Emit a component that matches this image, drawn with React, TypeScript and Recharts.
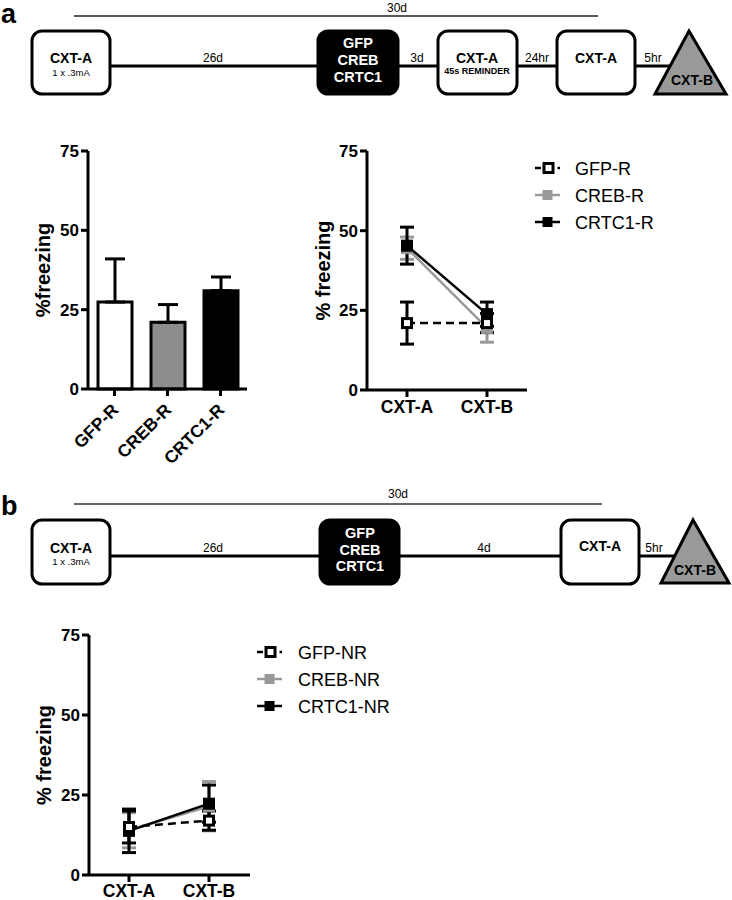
import React from 'react';
import { BarChart, Bar, LineChart, Line, XAxis, YAxis, ErrorBar, Cell, Legend } from 'recharts';

const FONT = '"Liberation Sans", Arial, Helvetica, sans-serif';

// ---- Panel a, bar chart ----
const barGroups = ['GFP-R', 'CREB-R', 'CRTC1-R'];
const barMeans = [27.4, 21.0, 31.0];
const barSem = [13.6, 5.6, 4.3];
const barFills = ['#ffffff', '#8c8c8c', '#000000'];

// ---- shared axes ----
const yTicks = [0, 25, 50, 75];
const contexts = ['CXT-A', 'CXT-B'];

// ---- Panel a, line chart (reminder groups) ----
const gfpR = [21.0, 21.0];
const gfpRErr = [6.6, 3.0];
const crebR = [44.5, 19.5];
const crebRErr = [3.5, 4.5];
const crtcR = [45.3, 23.8];
const crtcRErr = [5.8, 3.8];
const legendA = ['GFP-R', 'CREB-R', 'CRTC1-R'];

// ---- Panel b, line chart (no reminder groups) ----
const gfpNR = [15.0, 17.0];
const gfpNRErr = [5.0, 3.0];
const crebNR = [14.0, 21.5];
const crebNRErr = [5.5, 7.7];
const crtcNR = [13.8, 22.3];
const crtcNRErr = [6.8, 5.8];
const legendB = ['GFP-NR', 'CREB-NR', 'CRTC1-NR'];

const barData = barGroups.map((name, i) => ({ name, value: barMeans[i], err: [0, barSem[i]] }));
const lineDataA = contexts.map((name, i) => ({
  name,
  gfp: gfpR[i], gfpErr: gfpRErr[i],
  creb: crebR[i], crebErr: crebRErr[i],
  crtc: crtcR[i], crtcErr: crtcRErr[i],
}));
const lineDataB = contexts.map((name, i) => ({
  name,
  gfp: gfpNR[i], gfpErr: gfpNRErr[i],
  creb: crebNR[i], crebErr: crebNRErr[i],
  crtc: crtcNR[i], crtcErr: crtcNRErr[i],
}));

const GRAY = '#999999';

const squareDot = (fill: string, stroke: string, size: number, sw: number) => (props: any) => {
  const { cx, cy, index } = props;
  if (cx == null || cy == null) return <g key={`n-${index}`} />;
  return (
    <rect key={`d-${index}`} x={cx - size / 2} y={cy - size / 2} width={size} height={size}
      fill={fill} stroke={stroke} strokeWidth={sw} />
  );
};

const axisLine = { stroke: '#000', strokeWidth: 3 };
const tickStyle = { fill: '#000', fontSize: 17, fontWeight: 'bold' as const, fontFamily: FONT };

const RotTick = (props: any) => {
  const { x, y, payload } = props;
  return (
    <g transform={`translate(${x + 5},${y + 13}) rotate(-45)`}>
      <text x={0} y={0} textAnchor="end" fill="#000" fontSize={17.5} fontWeight="bold" fontFamily={FONT}>
        {payload.value}
      </text>
    </g>
  );
};

const LegendSymbols = ({ names, textX }: { names: string[]; textX: number }) => (
  <svg width={200} height={90} style={{ display: 'block', overflow: 'visible' }}>
    {names.map((n, i) => {
      const y = 18 + i * 27;
      let sym;
      if (i === 0) {
        sym = (
          <g>
            <line x1={0} y1={y} x2={6} y2={y} stroke="#000" strokeWidth={2.5} />
            <rect x={9} y={y - 4.5} width={9} height={9} fill="#fff" stroke="#000" strokeWidth={3} />
            <line x1={22.5} y1={y} x2={25} y2={y} stroke="#000" strokeWidth={2.5} />
          </g>
        );
      } else {
        const c = i === 1 ? GRAY : '#000';
        sym = (
          <g>
            <line x1={0} y1={y} x2={25} y2={y} stroke={c} strokeWidth={2.5} />
            <rect x={7.5} y={y - 5} width={10} height={10} fill={c} />
          </g>
        );
      }
      return (
        <g key={n}>
          {sym}
          <text x={textX} y={y + 6.5} fontSize={18} fill="#000" fontFamily={FONT}>{n}</text>
        </g>
      );
    })}
  </svg>
);

const TimelineA = () => (
  <svg width={732} height={110} style={{ position: 'absolute', left: 0, top: 0 }} fontFamily={FONT}>
    <text x={1} y={23} fontSize={27} fontWeight="bold" fill="#000">a</text>
    <line x1={74} y1={16} x2={598} y2={16} stroke="#222" strokeWidth={1.4} />
    <text x={397} y={12} fontSize={12} textAnchor="middle" fill="#000">30d</text>
    <line x1={110} y1={66} x2={672} y2={66} stroke="#000" strokeWidth={3} />
    <rect x={32} y={31} width={78} height={63} rx={10} fill="#fff" stroke="#000" strokeWidth={3} />
    <text x={71} y={63} fontSize={14} fontWeight="bold" textAnchor="middle">CXT-A</text>
    <text x={71} y={76} fontSize={9.5} textAnchor="middle">1 x .3mA</text>
    <text x={213} y={62} fontSize={12} textAnchor="middle">26d</text>
    <rect x={318} y={31} width={80} height={63} rx={10} fill="#000" stroke="#000" strokeWidth={3} />
    <text x={358} y={48} fontSize={14.5} fontWeight="bold" textAnchor="middle" fill="#fff">GFP</text>
    <text x={358} y={65} fontSize={14.5} fontWeight="bold" textAnchor="middle" fill="#fff">CREB</text>
    <text x={358} y={82} fontSize={14.5} fontWeight="bold" textAnchor="middle" fill="#fff">CRTC1</text>
    <text x={417} y={62} fontSize={12} textAnchor="middle">3d</text>
    <rect x={438} y={31} width={79} height={63} rx={10} fill="#fff" stroke="#000" strokeWidth={3} />
    <text x={477} y={63} fontSize={14} fontWeight="bold" textAnchor="middle">CXT-A</text>
    <text x={477} y={74} fontSize={9} fontWeight="bold" textAnchor="middle">45s REMINDER</text>
    <text x={537} y={62} fontSize={12} textAnchor="middle">24hr</text>
    <rect x={557} y={31} width={78} height={63} rx={10} fill="#fff" stroke="#000" strokeWidth={3} />
    <text x={596} y={63} fontSize={14} fontWeight="bold" textAnchor="middle">CXT-A</text>
    <text x={653} y={62} fontSize={12} textAnchor="middle">5hr</text>
    <polygon points="689,31 655,94 726,94" fill="#999" stroke="#000" strokeWidth={3} strokeLinejoin="miter" />
    <text x={692} y={85} fontSize={14} fontWeight="bold" textAnchor="middle">CXT-B</text>
  </svg>
);

const TimelineB = () => (
  <svg width={732} height={115} style={{ position: 'absolute', left: 0, top: 480 }} fontFamily={FONT}>
    <text x={1} y={35} fontSize={27} fontWeight="bold" fill="#000">b</text>
    <line x1={74} y1={24} x2={602} y2={24} stroke="#666" strokeWidth={2} />
    <text x={398} y={18} fontSize={12} textAnchor="middle" fill="#000">30d</text>
    <line x1={110} y1={76} x2={677} y2={76} stroke="#000" strokeWidth={3} />
    <rect x={32} y={40} width={78} height={64} rx={10} fill="#fff" stroke="#000" strokeWidth={3} />
    <text x={71} y={73} fontSize={14} fontWeight="bold" textAnchor="middle">CXT-A</text>
    <text x={71} y={85} fontSize={9.5} textAnchor="middle">1 x .3mA</text>
    <text x={213} y={72} fontSize={12} textAnchor="middle">26d</text>
    <rect x={320} y={40} width={79} height={64} rx={10} fill="#000" stroke="#000" strokeWidth={3} />
    <text x={360} y={58} fontSize={14.5} fontWeight="bold" textAnchor="middle" fill="#fff">GFP</text>
    <text x={360} y={75} fontSize={14.5} fontWeight="bold" textAnchor="middle" fill="#fff">CREB</text>
    <text x={360} y={91} fontSize={14.5} fontWeight="bold" textAnchor="middle" fill="#fff">CRTC1</text>
    <text x={484} y={72} fontSize={12} textAnchor="middle">4d</text>
    <rect x={561} y={40} width={78} height={64} rx={10} fill="#fff" stroke="#000" strokeWidth={3} />
    <text x={600} y={71} fontSize={14} fontWeight="bold" textAnchor="middle">CXT-A</text>
    <text x={654} y={72} fontSize={12} textAnchor="middle">5hr</text>
    <polygon points="693,40 661,103 729,103" fill="#999" stroke="#000" strokeWidth={3} strokeLinejoin="miter" />
    <text x={695} y={95} fontSize={14} fontWeight="bold" textAnchor="middle">CXT-B</text>
  </svg>
);

const yLabel = (text: string, dx: number) => ({
  value: text,
  angle: -90,
  position: 'center' as const,
  dx,
  style: { fontSize: 20, fontWeight: 'bold', fill: '#000', fontFamily: FONT, textAnchor: 'middle' },
});

const renderLines = () => [
  <Line key="creb" dataKey="creb" stroke={GRAY} strokeWidth={2.5} isAnimationActive={false}
    dot={squareDot(GRAY, GRAY, 11, 1)} activeDot={false}>
    <ErrorBar dataKey="crebErr" width={7} strokeWidth={3} stroke={GRAY} direction="y" />
  </Line>,
  <Line key="crtc" dataKey="crtc" stroke="#000" strokeWidth={2.5} isAnimationActive={false}
    dot={squareDot('#000', '#000', 11, 1)} activeDot={false}>
    <ErrorBar dataKey="crtcErr" width={7} strokeWidth={3} stroke="#000" direction="y" />
  </Line>,
  <Line key="gfp" dataKey="gfp" stroke="#000" strokeWidth={2.5} strokeDasharray="8 5" isAnimationActive={false}
    dot={squareDot('#fff', '#000', 9, 3)} activeDot={false}>
    <ErrorBar dataKey="gfpErr" width={7} strokeWidth={3} stroke="#000" direction="y" />
  </Line>,
];

export default function App() {
  return (
    <div style={{ position: 'absolute', left: 0, top: 0, width: 732, height: 900, background: '#fff', fontFamily: FONT, overflow: 'hidden' }}>
      <TimelineA />

      <div style={{ position: 'absolute', left: 0, top: 130 }}>
        <BarChart width={260} height={340} data={barData} margin={{ top: 21, right: 13, left: 0, bottom: 11 }}>
          <XAxis dataKey="name" interval={0} height={70} tick={<RotTick />} axisLine={axisLine}
            tickLine={axisLine} tickSize={7} tickMargin={2} />
          <YAxis domain={[0, 75]} ticks={yTicks} interval={0} width={88} axisLine={axisLine}
            tickLine={axisLine} tickSize={7} tickMargin={2} tick={tickStyle}
            label={yLabel('%freezing', -1)} />
          <Bar dataKey="value" barSize={34} stroke="#000" strokeWidth={3} isAnimationActive={false}>
            {barData.map((d, i) => <Cell key={d.name} fill={barFills[i]} />)}
            <ErrorBar dataKey="err" width={10} strokeWidth={3} stroke="#000" direction="y" />
          </Bar>
        </BarChart>
      </div>

      <div style={{ position: 'absolute', left: 280, top: 130 }}>
        <LineChart width={452} height={300} data={lineDataA} margin={{ top: 21, right: 205, left: 0, bottom: 0 }}>
          <XAxis dataKey="name" interval={0} height={40} padding={{ left: 40, right: 40 }}
            axisLine={axisLine} tickLine={axisLine}
            tickSize={7} tickMargin={4} tick={{ ...tickStyle, fontSize: 17.5 }} />
          <YAxis domain={[0, 75]} ticks={yTicks} interval={0} width={87} axisLine={axisLine}
            tickLine={axisLine} tickSize={7} tickMargin={2} tick={tickStyle}
            label={yLabel('% freezing', -0.5)} />
          {renderLines()}
          <Legend layout="vertical" align="center" verticalAlign="middle"
            wrapperStyle={{ position: 'absolute', left: 255, top: 20, width: 200, height: 90 }}
            content={() => <LegendSymbols names={legendA} textX={40} />} />
        </LineChart>
      </div>

      <TimelineB />

      <div style={{ position: 'absolute', left: 0, top: 610 }}>
        <LineChart width={460} height={290} data={lineDataB} margin={{ top: 25, right: 210, left: 0, bottom: 0 }}>
          <XAxis dataKey="name" interval={0} height={25} padding={{ left: 40, right: 41 }}
            axisLine={axisLine} tickLine={axisLine}
            tickSize={7} tickMargin={3} tick={{ ...tickStyle, fontSize: 17.5 }} />
          <YAxis domain={[0, 75]} ticks={yTicks} interval={0} width={89} axisLine={axisLine}
            tickLine={axisLine} tickSize={7} tickMargin={2} tick={tickStyle}
            label={yLabel('% freezing', -0.5)} />
          {renderLines()}
          <Legend layout="vertical" align="center" verticalAlign="middle"
            wrapperStyle={{ position: 'absolute', left: 257, top: 24, width: 200, height: 90 }}
            content={() => <LegendSymbols names={legendB} textX={41} />} />
        </LineChart>
      </div>
    </div>
  );
}
